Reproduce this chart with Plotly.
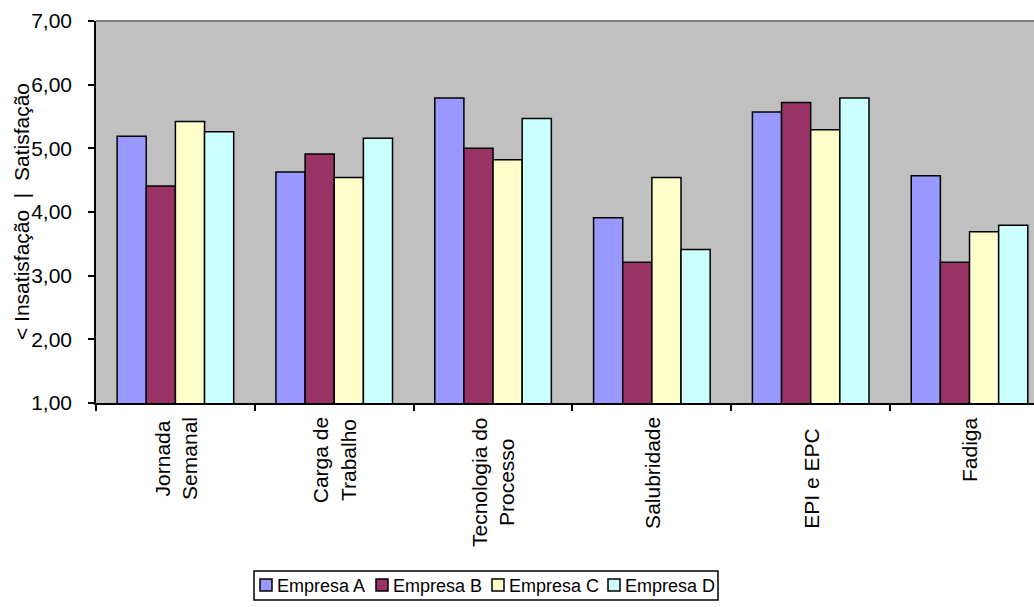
import plotly.graph_objects as go

# Categories (x axis) and one score list per company
categorias = ["Jornada<br>Semanal", "Carga de<br>Trabalho", "Tecnologia do<br>Processo",
              "Salubridade", "EPI e EPC", "Fadiga"]
empresas = ["Empresa A", "Empresa B", "Empresa C", "Empresa D"]
empresa_a = [5.19, 4.63, 5.79, 3.91, 5.57, 4.57]
empresa_b = [4.41, 4.91, 5.00, 3.21, 5.72, 3.21]
empresa_c = [5.42, 4.54, 4.82, 4.54, 5.29, 3.69]
empresa_d = [5.26, 5.16, 5.47, 3.41, 5.79, 3.79]
y_ticks = [1, 2, 3, 4, 5, 6, 7]
y_title = "< Insatisfação  |  Satisfação"

cores = ["#9999FF", "#993366", "#FFFFCC", "#CCFFFF"]
series = [empresa_a, empresa_b, empresa_c, empresa_d]

FONT = "Liberation Sans, Arial, sans-serif"
SIZE = 21
W, H = 1034, 607
ML, MT, MB = 96, 21, 204
idx = list(range(len(categorias)))

# pixel -> paper helpers for the hand-placed legend and axis title
plot_w = W - ML
plot_h = H - MT - MB


def px(x):
    return (x - ML) / plot_w


def py(y):
    return (H - MB - y) / plot_h


fig = go.Figure()
for nome, valores, cor in zip(empresas, series, cores):
    fig.add_trace(go.Bar(
        x=idx, y=valores, name=nome, showlegend=False,
        marker=dict(color=cor, line=dict(color="black", width=1.5)),
        base=0,
    ))

# category labels drawn rotated below the axis, lines centred
label_shift = {4: -12}
for i, rotulo in enumerate(categorias):
    fig.add_annotation(
        x=i, y=0, xref="x", yref="paper", yanchor="top", xanchor="center",
        yshift=-12 + label_shift.get(i, 0), text=rotulo, textangle=-90,
        align="center", showarrow=False,
        font=dict(family=FONT, size=SIZE, color="black"),
    )

# vertical axis title
fig.add_annotation(x=px(21), y=0.5, xref="paper", yref="paper", xanchor="center",
                   yanchor="middle", text=y_title, textangle=-90, showarrow=False,
                   font=dict(family=FONT, size=SIZE, color="black"))

# thin grey border along the top of the plot area
fig.add_shape(type="line", xref="paper", yref="paper", x0=0, x1=1, y0=1, y1=1,
              line=dict(color="#808080", width=2))

# legend: framed row of swatches and names under the chart
leg_left, leg_right, leg_top, leg_bottom = 254, 718, 571, 600
fig.add_shape(type="rect", xref="paper", yref="paper",
              x0=px(leg_left), x1=px(leg_right), y0=py(leg_bottom), y1=py(leg_top),
              line=dict(color="black", width=1.5), fillcolor="white")
step = 116
for k, (nome, cor) in enumerate(zip(empresas, cores)):
    sx = leg_left + 6 + k * step
    fig.add_shape(type="rect", xref="paper", yref="paper",
                  x0=px(sx), x1=px(sx + 12), y0=py(591), y1=py(579),
                  line=dict(color="black", width=1.5), fillcolor=cor)
    fig.add_annotation(x=px(sx + 15), y=py(585.5), xref="paper", yref="paper",
                       xanchor="left", yanchor="middle", text=nome, showarrow=False,
                       font=dict(family=FONT, size=18, color="black"))

fig.update_layout(
    width=W, height=H,
    margin=dict(l=ML, r=0, t=MT, b=MB, pad=0),
    paper_bgcolor="white", plot_bgcolor="#C0C0C0",
    separators=",.",
    barmode="group", bargap=0.266, bargroupgap=0,
    font=dict(family=FONT, size=SIZE, color="black"),
    showlegend=False,
)
fig.update_xaxes(
    type="linear", range=[-0.5, 5.406], showticklabels=False,
    tickvals=[i - 0.5 for i in idx] + [5.5], ticks="outside", ticklen=6, tickwidth=1.5,
    tickcolor="black", showline=True, linecolor="black", linewidth=1.5,
    showgrid=False, zeroline=False,
)
fig.update_yaxes(
    range=[1, 7], tickvals=y_ticks, tickformat=".2f", ticks="outside", ticklen=6,
    tickwidth=1.5, tickcolor="black", showline=True, linecolor="black", linewidth=1.5,
    showgrid=False, zeroline=False, ticklabelstandoff=12,
    tickfont=dict(family=FONT, size=SIZE, color="black"),
)

fig.write_html("out.html")
